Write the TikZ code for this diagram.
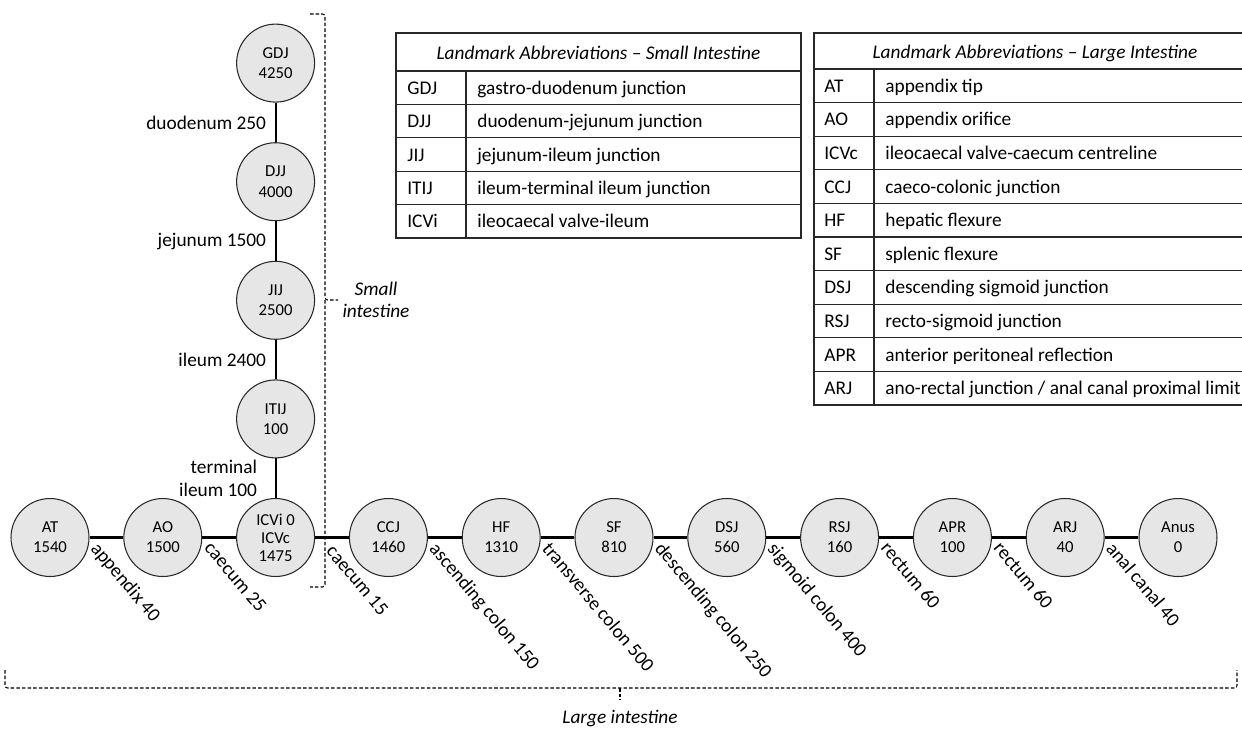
\documentclass[tikz,border=0pt]{standalone}
\usepackage{fontspec}
\setmainfont{Carlito}
\usepackage{tikz}
\usetikzlibrary{positioning}
\definecolor{landmarkfill}{RGB}{231,230,230}
\definecolor{rulegray}{RGB}{40,40,40}

\begin{document}
\begin{tikzpicture}[
    x=0.02cm, y=-0.02cm,
    landmark/.style={circle, draw=rulegray, line width=0.6pt, fill=landmarkfill, minimum size=1.56cm, inner sep=0pt, align=center, font=\fontsize{9.5}{11.4}\selectfont},
    gut/.style={line width=1.2pt, black},
    seglabel/.style={anchor=north west, inner sep=0pt, rotate=-50, font=\fontsize{11}{13}\selectfont},
    vlabel/.style={anchor=east, inner sep=0pt, xshift=-0.17cm, align=right, font=\fontsize{11}{13}\selectfont},
    region/.style={dash pattern=on 2pt off 1.2pt, line width=0.6pt, rounded corners=1.5pt},
    regionlabel/.style={align=center, font=\fontsize{11}{12.5}\selectfont\itshape},
    tablerule/.style={line width=0.6pt, rulegray},
    keytext/.style={anchor=base west, inner sep=0pt, font=\fontsize{11}{13}\selectfont},
    headtext/.style={anchor=base, inner sep=0pt, font=\fontsize{11}{13}\selectfont\itshape}
]
\useasboundingbox (0,0) rectangle (1242,728);
\clip (0,0) rectangle (1242,728);

% Large intestine - horizontal chain
\node[landmark] (AT) at (50,537.5) {AT\\1540};
\node[landmark] (AO) at (162.8,537.5) {AO\\1500};
\node[landmark, font=\fontsize{9.5}{10.3}\selectfont] (ICV) at (275.6,537.5) {ICVi 0\\ICVc\\1475};
\node[landmark] (CCJ) at (388.4,537.5) {CCJ\\1460};
\node[landmark] (HF) at (501.2,537.5) {HF\\1310};
\node[landmark] (SF) at (614,537.5) {SF\\810};
\node[landmark] (DSJ) at (726.8,537.5) {DSJ\\560};
\node[landmark] (RSJ) at (839.6,537.5) {RSJ\\160};
\node[landmark] (APR) at (952.4,537.5) {APR\\100};
\node[landmark] (ARJ) at (1065.2,537.5) {ARJ\\40};
\node[landmark] (Anus) at (1178,537.5) {Anus\\0};

% Small intestine - vertical chain
\node[landmark] (ITIJ) at (275.6,418.9) {ITIJ\\100};
\node[landmark] (JIJ) at (275.6,300.3) {JIJ\\2500};
\node[landmark] (DJJ) at (275.6,181.7) {DJJ\\4000};
\node[landmark] (GDJ) at (275.6,63.1) {GDJ\\4250};

% Segments
\draw[gut] (AT) -- (AO);
\draw[gut] (AO) -- (ICV);
\draw[gut] (ICV) -- (CCJ);
\draw[gut] (CCJ) -- (HF);
\draw[gut] (HF) -- (SF);
\draw[gut] (SF) -- (DSJ);
\draw[gut] (DSJ) -- (RSJ);
\draw[gut] (RSJ) -- (APR);
\draw[gut] (APR) -- (ARJ);
\draw[gut] (ARJ) -- (Anus);

\draw[gut] (GDJ) -- node[midway, vlabel] {duodenum 250} (DJJ);
\draw[gut] (DJJ) -- node[midway, vlabel] {jejunum 1500} (JIJ);
\draw[gut] (JIJ) -- node[midway, vlabel] {ileum 2400} (ITIJ);
\draw[gut] (ITIJ) -- node[midway, vlabel, xshift=-0.18cm] {terminal\\ileum 100} (ICV);

% Segment lengths (large intestine)
\node[seglabel] (lAppendix) at ([xshift=0.22cm, yshift=-0.05cm]AT.east) {appendix 40};
\node[seglabel] (lCaecumA) at ([xshift=0.22cm, yshift=-0.05cm]AO.east) {caecum 25};
\node[seglabel] (lCaecumB) at ([xshift=0.40cm, yshift=-0.12cm]ICV.east) {caecum 15};
\node[seglabel] (lAscending) at ([xshift=0.22cm, yshift=-0.05cm]CCJ.east) {ascending colon 150};
\node[seglabel] (lTransverse) at ([xshift=0.22cm, yshift=-0.05cm]HF.east) {transverse colon 500};
\node[seglabel] (lDescending) at ([xshift=0.22cm, yshift=-0.05cm]SF.east) {descending colon 250};
\node[seglabel] (lSigmoid) at ([xshift=0.22cm, yshift=-0.05cm]DSJ.east) {sigmoid colon 400};
\node[seglabel] (lRectumA) at ([xshift=0.22cm, yshift=-0.05cm]RSJ.east) {rectum 60};
\node[seglabel] (lRectumB) at ([xshift=0.22cm, yshift=-0.05cm]APR.east) {rectum 60};
\node[seglabel] (lAnal) at ([xshift=0.22cm, yshift=-0.05cm]ARJ.east) {anal canal 40};

% Brackets
\draw[region] (310,14) -| (325,300) -- (338,300);
\draw[region] (325,300) |- (310,587);
\node[regionlabel] (smallLbl) at (376,300) {Small\\intestine};

\draw[region] (5,670) |- (1237,688) -- (1237,670);
\draw[region] (620,688) -- (620,700);
\node[regionlabel] (largeLbl) at (620,718) {Large intestine};

% Table - small intestine
\draw[tablerule] (396,33) rectangle (801,238);
\foreach \y in {71,104.4,137.8,171.2,204.6}
  \draw[tablerule] (396,\y) -- (801,\y);
\draw[tablerule] (466,71) -- (466,238);
\node[headtext] (smallHead) at (598.5,59.5) {Landmark Abbreviations -- Small Intestine};
\node[keytext] (kGDJ) at (407,94.2) {GDJ};
\node[keytext] (dGDJ) at (477,94.2) {gastro-duodenum junction};
\node[keytext] (kDJJ) at (407,127.6) {DJJ};
\node[keytext] (dDJJ) at (477,127.6) {duodenum-jejunum junction};
\node[keytext] (kJIJ) at (407,161) {JIJ};
\node[keytext] (dJIJ) at (477,161) {jejunum-ileum junction};
\node[keytext] (kITIJ) at (407,194.4) {ITIJ};
\node[keytext] (dITIJ) at (477,194.4) {ileum-terminal ileum junction};
\node[keytext] (kICVi) at (407,227.8) {ICVi};
\node[keytext] (dICVi) at (477,227.8) {ileocaecal valve-ileum};

% Table - large intestine
\draw[tablerule] (814,33) rectangle (1256,405);
\foreach \y in {69,102.6,136.2,169.8,203.4,237,270.6,304.2,337.8,371.4}
  \draw[tablerule] (814,\y) -- (1256,\y);
\draw[tablerule] (874,69) -- (874,405);
\node[headtext] (largeHead) at (1035,58) {Landmark Abbreviations -- Large Intestine};
\node[keytext] (kAT) at (824,92.3) {AT};
\node[keytext] (dAT) at (885,92.3) {appendix tip};
\node[keytext] (kAO) at (824,125.9) {AO};
\node[keytext] (dAO) at (885,125.9) {appendix orifice};
\node[keytext] (kICVc) at (824,159.5) {ICVc};
\node[keytext] (dICVc) at (885,159.5) {ileocaecal valve-caecum centreline};
\node[keytext] (kCCJ) at (824,193.1) {CCJ};
\node[keytext] (dCCJ) at (885,193.1) {caeco-colonic junction};
\node[keytext] (kHF) at (824,226.7) {HF};
\node[keytext] (dHF) at (885,226.7) {hepatic flexure};
\node[keytext] (kSF) at (824,260.3) {SF};
\node[keytext] (dSF) at (885,260.3) {splenic flexure};
\node[keytext] (kDSJ) at (824,293.9) {DSJ};
\node[keytext] (dDSJ) at (885,293.9) {descending sigmoid junction};
\node[keytext] (kRSJ) at (824,327.5) {RSJ};
\node[keytext] (dRSJ) at (885,327.5) {recto-sigmoid junction};
\node[keytext] (kAPR) at (824,361.1) {APR};
\node[keytext] (dAPR) at (885,361.1) {anterior peritoneal reflection};
\node[keytext] (kARJ) at (824,394.7) {ARJ};
\node[keytext] (dARJ) at (885,394.7) {ano-rectal junction / anal canal proximal limit};

\end{tikzpicture}
\end{document}
